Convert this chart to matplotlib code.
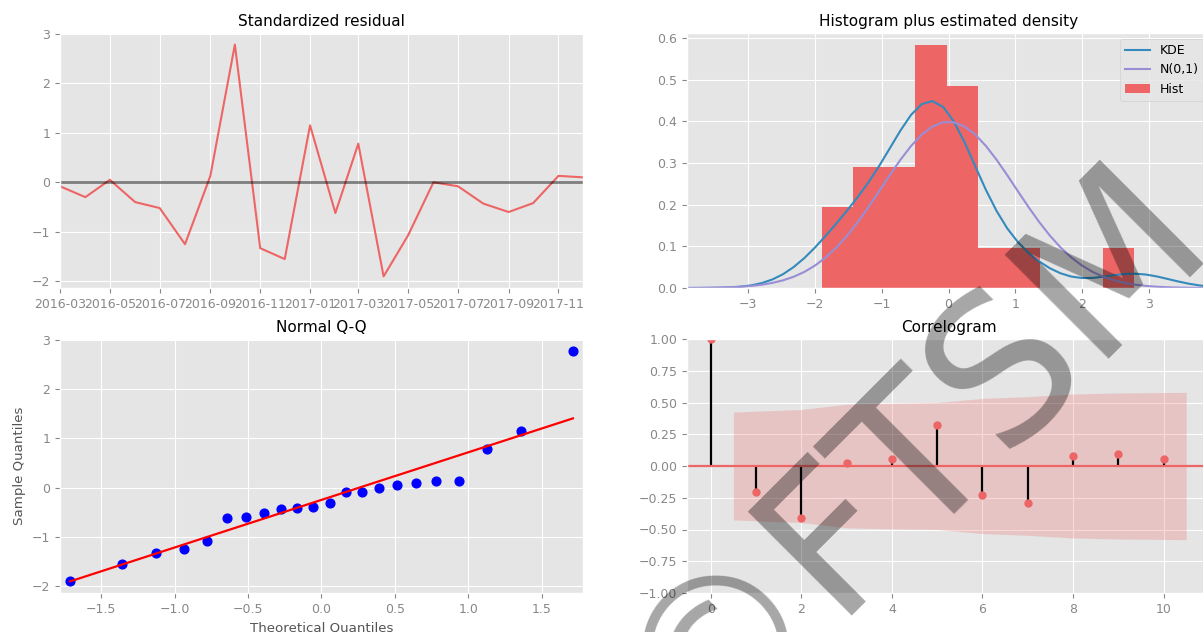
import numpy as np
import matplotlib
matplotlib.use("Agg")
import matplotlib.pyplot as plt
import matplotlib.dates as mdates
from datetime import datetime
from statistics import NormalDist

# --- data ---
months = ["2016-03", "2016-04", "2016-05", "2016-06", "2016-07", "2016-08",
          "2016-09", "2016-10", "2016-11", "2016-12", "2017-01", "2017-02",
          "2017-03", "2017-04", "2017-05", "2017-06", "2017-07", "2017-08",
          "2017-09", "2017-10", "2017-11", "2017-12"]
resid = [-0.08, -0.30, 0.05, -0.40, -0.52, -1.25, 0.13, 2.78, -1.33, -1.55,
         1.15, -0.62, 0.78, -1.90, -1.07, 0.00, -0.08, -0.43, -0.60, -0.42,
         0.13, 0.10]

acf_lags = [0, 1, 2, 3, 4, 5, 6, 7, 8, 9, 10]
acf_vals = [1.0, -0.205, -0.41, 0.025, 0.055, 0.325, -0.225, -0.295, 0.075, 0.095, 0.055]
conf_band = [0.425, 0.445, 0.487, 0.495, 0.50, 0.532, 0.546, 0.567, 0.575, 0.58]

RED = "#ED6565"
BLUE = "#348ABD"
PURPLE = "#988ED5"

plt.style.use("ggplot")
plt.rcParams.update({
    "font.size": 9,
    "axes.titlesize": 11,
    "axes.labelsize": 9.6,
    "axes.titlepad": 5,
    "xtick.labelsize": 9,
    "ytick.labelsize": 9,
    "xtick.color": "#888888",
    "ytick.color": "#888888",
    "axes.labelcolor": "#555555",
    "lines.linewidth": 1.5,
    "legend.fontsize": 9,
})

W, H = 1203, 632
fig = plt.figure(figsize=(W / 100, H / 100), dpi=100)


def px_axes(x0, y0, x1, y1):
    # pixel box (top-left origin) -> figure axes
    return fig.add_axes([x0 / W, 1 - y1 / H, (x1 - x0) / W, (y1 - y0) / H])


ax1 = px_axes(60, 33, 583, 288)
ax2 = px_axes(687, 33, 1210, 288)
ax3 = px_axes(60, 339, 583, 593)
ax4 = px_axes(687, 339, 1210, 593)

resid = np.array(resid)
dates = [datetime.strptime(m, "%Y-%m") for m in months]

# === Standardized residual ===
ax1.plot(dates, resid, color=RED)
ax1.hlines(0, dates[0], dates[-1], color="black", alpha=0.5, lw=1.9)
ax1.set_xlim(dates[0], dates[-1])
ax1.xaxis.set_major_locator(mdates.MonthLocator(bymonth=[1, 3, 5, 7, 9, 11]))
ax1.xaxis.set_major_formatter(mdates.DateFormatter("%Y-%m"))
ax1.set_title("Standardized residual")

# === Histogram + density ===
kde_x = np.linspace(-1.96 * 2, 1.96 * 2, 50)
n = len(resid)
bw = n ** (-1 / 5) * resid.std(ddof=1)
kde_y = np.exp(-0.5 * ((kde_x[:, None] - resid[None, :]) / bw) ** 2).sum(axis=1) / (n * bw * np.sqrt(2 * np.pi))
norm_y = np.exp(-0.5 * kde_x ** 2) / np.sqrt(2 * np.pi)
ax2.hist(resid, bins=10, density=True, color=RED, label="Hist")
ax2.plot(kde_x, kde_y, color=BLUE, label="KDE")
ax2.plot(kde_x, norm_y, color=PURPLE, label="N(0,1)")
ax2.set_xlim(kde_x[0], kde_x[-1])
handles, labels = ax2.get_legend_handles_labels()
order = [labels.index(k) for k in ["KDE", "N(0,1)", "Hist"]]
ax2.legend([handles[i] for i in order], [labels[i] for i in order], loc="upper right")
ax2.set_title("Histogram plus estimated density")

# === Normal Q-Q ===
sample = np.sort(resid)
nd = NormalDist()
theo = np.array([nd.inv_cdf(i / (n + 1)) for i in range(1, n + 1)])
ax3.plot(theo, sample, "o", color="blue", markersize=6.3)
ax3.plot(theo, theo * sample.std() + sample.mean(), "r-", lw=1.6)
ax3.set_xmargin(0.02)
ax3.set_xlabel("Theoretical Quantiles")
ax3.set_ylabel("Sample Quantiles")
ax3.set_title("Normal Q-Q")

# === Correlogram ===
band_x = np.array(acf_lags[1:], dtype=float)
band_x[0] -= 0.5
band_x[-1] += 0.5
band = np.array(conf_band)
ax4.vlines(acf_lags, 0, acf_vals, colors="black", lw=1.6)
ax4.axhline(0, color=RED, lw=1.6)
ax4.plot(acf_lags, acf_vals, "o", color=RED, markersize=5)
ax4.fill_between(band_x, -band, band, color=RED, alpha=0.25, lw=0)
ax4.set_xlim(-0.525, 11.025)
ax4.set_ylim(-1, 1)
ax4.set_title("Correlogram")

# watermark
fig.text(910 / W, 1 - 452 / H, "\u00a9FTSM", rotation=45, fontsize=145,
         color="black", alpha=0.35, ha="center", va="center", zorder=10)

fig.savefig("out.png", dpi=100)
